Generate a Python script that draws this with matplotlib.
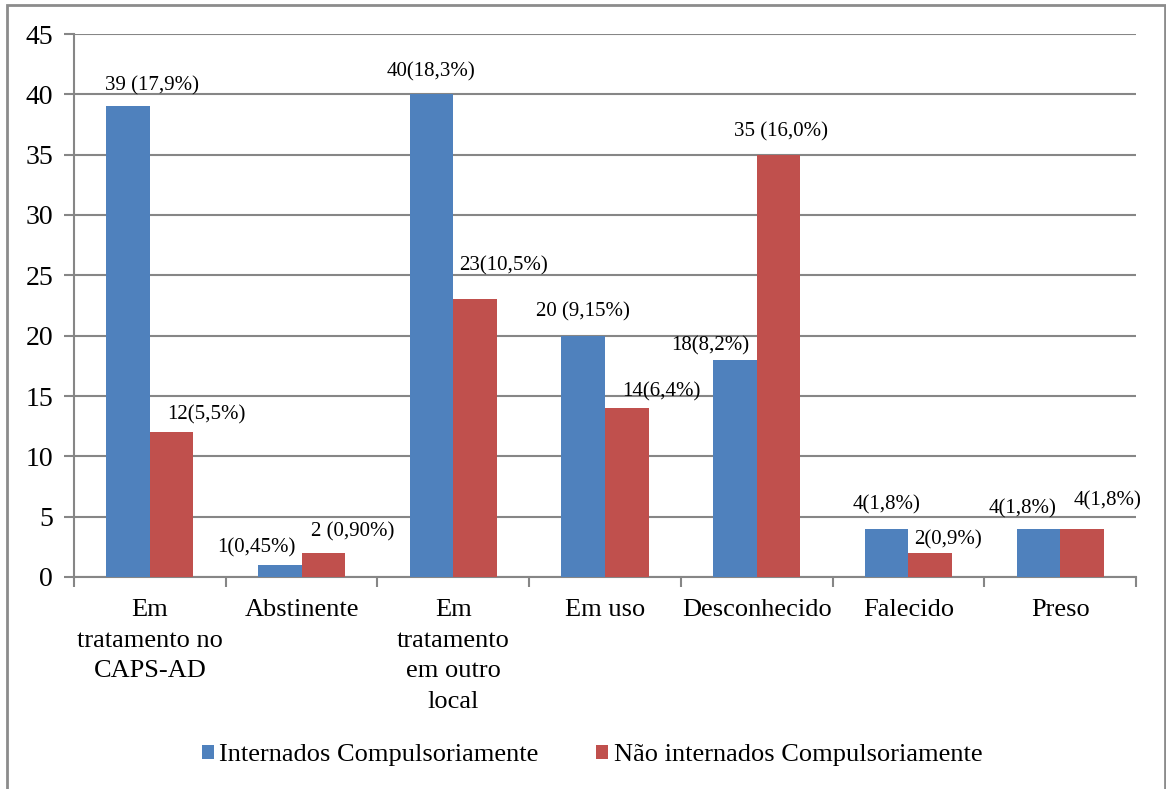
import matplotlib
matplotlib.use("Agg")
import matplotlib.pyplot as plt
from matplotlib.patches import Rectangle
import numpy as np

plt.rcParams['font.family'] = ['Liberation Serif', 'DejaVu Serif']

categorias = ["Em\ntratamento no\nCAPS-AD", "Abstinente", "Em\ntratamento\nem outro\nlocal",
              "Em uso", "Desconhecido", "Falecido", "Preso"]
internados = [39, 1, 40, 20, 18, 4, 4]
nao_internados = [12, 2, 23, 14, 35, 2, 4]
rot_internados = ["39 (17,9%)", "1(0,45%)", "40(18,3%)", "20 (9,15%)", "18(8,2%)", "4(1,8%)", "4(1,8%)"]
rot_nao_internados = ["12(5,5%)", "2 (0,90%)", "23(10,5%)", "14(6,4%)", "35 (16,0%)", "2(0,9%)", "4(1,8%)"]
serie_nomes = ["Internados Compulsoriamente", "Não internados Compulsoriamente"]

# label offsets from the top of each bar, in pixels
desl_internados = [(24, 21), (-23, 17), (0, 22), (0, 24), (-25, 14), (0, 24), (-16, 20)]
desl_nao_internados = [(35, 17), (29, 21), (28, 34), (35, 16), (2, 23), (18, 13), (26, 28)]

azul = "#4F81BD"
vermelho = "#C0504D"
cinza = "#868686"

fig = plt.figure(figsize=(11.66, 7.89), dpi=100)
ax = fig.add_axes([74/1166, 1-577/789, (1136-74)/1166, (577-34)/789])

x = np.arange(len(categorias))
w = 0.2875
b1 = ax.bar(x - w/2, internados, w, color=azul, label=serie_nomes[0], zorder=3)
b2 = ax.bar(x + w/2, nao_internados, w, color=vermelho, label=serie_nomes[1], zorder=3)

for barras, rots, desl in [(b1, rot_internados, desl_internados), (b2, rot_nao_internados, desl_nao_internados)]:
    for b, r, d in zip(barras, rots, desl):
        ax.annotate(r, (b.get_x() + b.get_width()/2, b.get_height()), xytext=d,
                    textcoords='offset pixels', ha='center', va='center', fontsize=15, zorder=4)

ax.set_xlim(-0.5, len(categorias) - 0.5)
ax.set_ylim(0, 45)
ax.set_yticks(np.arange(0, 46, 5))
ax.yaxis.grid(True, color=cinza, linewidth=1.5, zorder=0)
ax.set_xticks(x)
ax.set_xticklabels(categorias, fontsize=19, linespacing=1.5)
ax.set_xticks(np.arange(-0.5, len(categorias), 1), minor=True)
ax.tick_params(axis='x', which='major', length=0, pad=16)
ax.tick_params(axis='x', which='minor', length=7, width=1.5, color=cinza, direction='out')
ax.tick_params(axis='y', length=7, width=1.5, color=cinza, labelsize=20, pad=8)

for s in ['top', 'right']:
    ax.spines[s].set_visible(False)
for s in ['left', 'bottom']:
    ax.spines[s].set_color(cinza)
    ax.spines[s].set_linewidth(1.5)

fig.legend(handles=[b1, b2], loc='center', bbox_to_anchor=(592/1166, 1-755/789), ncol=2,
           frameon=False, fontsize=19, handlelength=0.45, handleheight=0.45,
           handletextpad=0.2, columnspacing=2.2)

# frame around the whole chart
fig.patches.append(Rectangle((7/1166, -0.05), (1165-7)/1166, 1.05 - 5/789, transform=fig.transFigure,
                             fill=False, edgecolor="#8c8c8c", linewidth=2))

fig.savefig("out.png", dpi=100)
